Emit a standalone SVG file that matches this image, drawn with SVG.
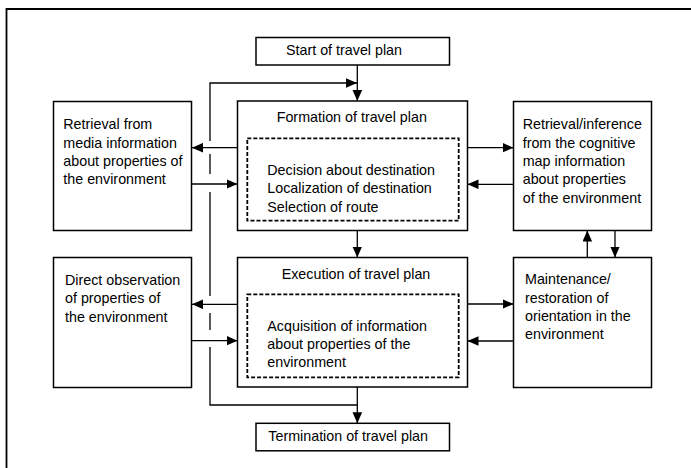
<svg xmlns="http://www.w3.org/2000/svg" width="691" height="468" viewBox="0 0 691 468">
<style>
.box{fill:#fff;stroke:#000;stroke-width:1.5}
.dash{fill:none;stroke:#000;stroke-width:1.8;stroke-dasharray:4 2}
.ln{fill:none;stroke:#000;stroke-width:1.3}
.ar{fill:none;stroke:#000;stroke-width:1.3;marker-end:url(#ah)}
text{font-family:"Liberation Sans",Arial,sans-serif;font-size:14.3px;fill:#000}
</style>
<defs>
<marker id="ah" markerUnits="userSpaceOnUse" markerWidth="12" markerHeight="10" refX="11" refY="4.8" orient="auto">
<path d="M0,0 L11,4.8 L0,9.6 z" fill="#000"/>
</marker>
</defs>
<rect width="691" height="468" fill="#fff"/>
<path d="M6.5,468 V9 H691" fill="none" stroke="#000" stroke-width="1.8"/>
<g id="connectors">
<path class="ar" d="M357.3,65 V101"/>
<path class="ar" d="M210,141 V83 H357"/>
<path class="ln" d="M210,154 V174"/>
<path class="ln" d="M210,192 V296"/>
<path class="ln" d="M210,313 V330"/>
<path class="ln" d="M210,347 V405 H357.3"/>
<path class="ar" d="M237.5,147.7 H192"/>
<path class="ar" d="M191.5,184 H237.5"/>
<path class="ar" d="M467.5,147.7 H513.5"/>
<path class="ar" d="M513.5,184.3 H467.5"/>
<path class="ar" d="M357.3,230.5 V257.5"/>
<path class="ar" d="M237.5,304.3 H192"/>
<path class="ar" d="M191.5,340.7 H237.5"/>
<path class="ar" d="M467.5,304 H513.5"/>
<path class="ar" d="M513.5,341 H467.5"/>
<path class="ar" d="M587.3,257.5 V230.5"/>
<path class="ar" d="M615,230.5 V257.5"/>
<path class="ar" d="M357.3,387 V423.3"/>
</g>
<g id="start">
<rect class="box" x="256" y="37.5" width="193.5" height="27.5"/>
<text x="286" y="55">Start of travel plan</text>
</g>
<g id="formation">
<rect class="box" x="237.5" y="101" width="230" height="129.5"/>
<text x="276.7" y="122">Formation of travel plan</text>
<rect class="dash" x="247.3" y="138.3" width="211.4" height="82.4"/>
<text x="267.3" y="175">Decision about destination</text>
<text x="267.3" y="193">Localization of destination</text>
<text x="267.3" y="211.5">Selection of route</text>
</g>
<g id="media">
<rect class="box" x="53.5" y="101.5" width="138" height="129"/>
<text x="63.3" y="129">Retrieval from</text>
<text x="63.3" y="147.5">media information</text>
<text x="63.3" y="166">about properties of</text>
<text x="63.3" y="184.3">the environment</text>
</g>
<g id="cognitive">
<rect class="box" x="513.5" y="101.5" width="138" height="129"/>
<text x="522.7" y="129">Retrieval/inference</text>
<text x="522.7" y="147.5">from the cognitive</text>
<text x="522.7" y="166">map information</text>
<text x="522.7" y="184.3">about properties</text>
<text x="522.7" y="202.7">of the environment</text>
</g>
<g id="execution">
<rect class="box" x="237.5" y="257.5" width="230" height="129.5"/>
<text x="281.7" y="278.5">Execution of travel plan</text>
<rect class="dash" x="247.3" y="294.3" width="211.4" height="83"/>
<text x="267.3" y="330.7">Acquisition of information</text>
<text x="267.3" y="349">about properties of the</text>
<text x="267.3" y="367">environment</text>
</g>
<g id="observation">
<rect class="box" x="53.5" y="257.5" width="138" height="130"/>
<text x="65" y="285">Direct observation</text>
<text x="65" y="303.3">of properties of</text>
<text x="65" y="321.7">the environment</text>
</g>
<g id="maintenance">
<rect class="box" x="513.5" y="257.5" width="138" height="130"/>
<text x="525" y="284">Maintenance/</text>
<text x="525" y="302.7">restoration of</text>
<text x="525" y="320.7">orientation in the</text>
<text x="525" y="339.3">environment</text>
</g>
<g id="termination">
<rect class="box" x="256" y="423.3" width="193.5" height="27.5"/>
<text x="268.3" y="440.5">Termination of travel plan</text>
</g>
</svg>
